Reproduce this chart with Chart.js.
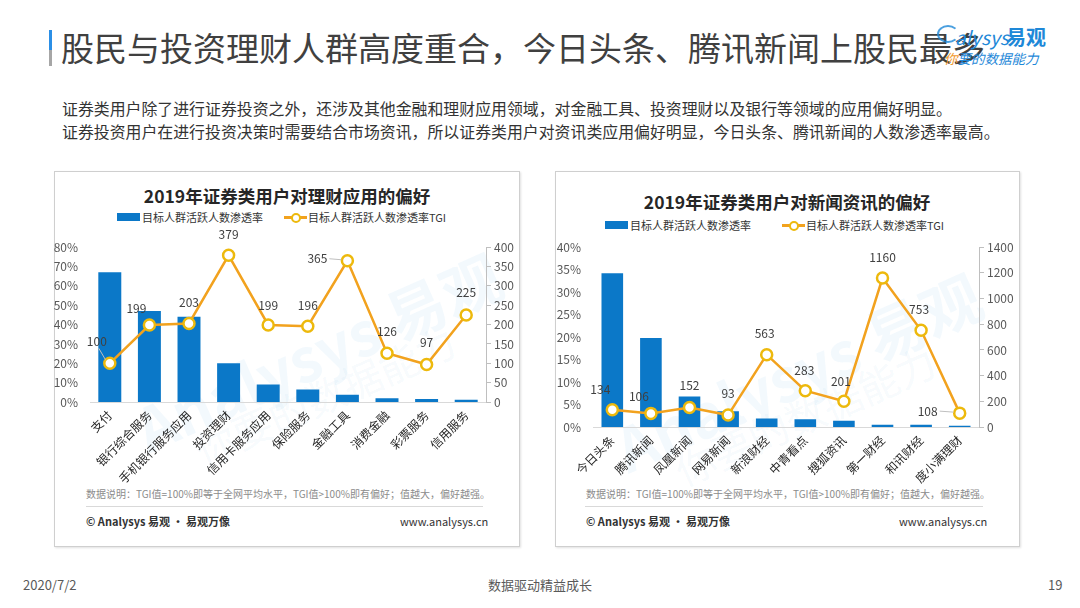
<!DOCTYPE html>
<html>
<head>
<meta charset="utf-8">
<script src="https://cdn.jsdelivr.net/npm/chart.js@4/dist/chart.umd.min.js"></script>
<style>
  html,body{margin:0;padding:0;background:#fff;}
  body{width:1080px;height:608px;position:relative;overflow:hidden;font-family:"Noto Sans CJK SC","Noto Sans",sans-serif;}
  .abs{position:absolute;white-space:nowrap;}
  .box{position:absolute;border:1px solid #cfcfcf;box-shadow:1px 1px 2px rgba(0,0,0,0.12);background:#fff;}
  .ctitle{position:absolute;font-size:17.5px;font-weight:bold;color:#262626;line-height:1;transform:translateX(-50%);white-space:nowrap;}
  .leg{position:absolute;font-size:11px;color:#333;line-height:12px;white-space:nowrap;}
  .sw{position:absolute;width:23px;height:8px;background:#0B78C8;}
  .ln{position:absolute;width:23px;height:3px;background:#F2A21E;}
  .dot{position:absolute;width:6px;height:6px;border:2px solid #EDB90C;border-radius:50%;background:#fff;}
  .note{position:absolute;font-size:10px;color:#8c8c8c;white-space:nowrap;line-height:12px;}
  .sep{position:absolute;height:1px;background:#d9d9d9;}
  .copy{position:absolute;font-size:11px;color:#333;font-weight:bold;white-space:nowrap;line-height:12px;}
  .www{position:absolute;font-size:11px;color:#333;white-space:nowrap;line-height:12px;}
  .wm{position:absolute;color:rgba(40,140,215,0.055);font-weight:bold;white-space:nowrap;transform-origin:left top;}
  canvas{position:absolute;}
</style>
</head>
<body>
<!-- header -->
<div class="abs" style="left:49px;top:30px;width:3px;height:20px;background:#2b8fe6;"></div>
<div class="abs" style="left:49px;top:50px;width:3px;height:16px;background:#a6a6a6;"></div>
<div class="abs" style="left:61px;top:29px;font-size:33px;line-height:36px;color:#404040;">股民与投资理财人群高度重合，今日头条、腾讯新闻上股民最多</div>

<div class="abs" style="left:937px;top:25px;width:18px;height:14px;border:2px solid #1E88D8;border-radius:50%;border-right-color:transparent;opacity:0.8;"></div>
<div class="abs" style="left:955px;top:26px;font-size:19px;line-height:22px;color:#1E88D8;font-style:italic;">alysys</div>
<div class="abs" style="left:1006px;top:25px;font-size:20px;line-height:24px;color:#1E88D8;font-weight:bold;">易观</div>
<div class="abs" style="left:944px;top:50px;font-size:13.5px;line-height:16px;color:#1E88D8;font-style:italic;"><span style="color:#F29A2E;">你</span>要的数据能力</div>

<div class="abs" style="left:62px;top:97px;font-size:15.9px;line-height:23px;color:#333;">证券类用户除了进行证券投资之外，还涉及其他金融和理财应用领域，对金融工具、投资理财以及银行等领域的应用偏好明显。<br>证券投资用户在进行投资决策时需要结合市场资讯，所以证券类用户对资讯类应用偏好明显，今日头条、腾讯新闻的人数渗透率最高。</div>

<!-- boxes -->
<div class="box" style="left:54px;top:171px;width:464px;height:374px;"></div>
<div class="box" style="left:555px;top:171px;width:463px;height:374px;"></div>

<!-- watermarks -->
<div class="wm" style="left:120px;top:390px;font-size:60px;transform:rotate(-24deg);">Analysys 易观</div>
<div class="wm" style="left:185px;top:425px;font-size:40px;font-weight:normal;transform:rotate(-24deg);">你要的数据能力</div>
<div class="wm" style="left:600px;top:410px;font-size:60px;transform:rotate(-24deg);">Analysys 易观</div>
<div class="wm" style="left:665px;top:445px;font-size:40px;font-weight:normal;transform:rotate(-24deg);">你要的数据能力</div>

<!-- left chart texts -->
<div class="ctitle" style="left:287px;top:187px;">2019年证券类用户对理财应用的偏好</div>
<div class="sw" style="left:117px;top:213px;"></div>
<div class="leg" style="left:142px;top:211px;">目标人群活跃人数渗透率</div>
<div class="ln" style="left:284px;top:216px;"></div>
<div class="dot" style="left:291px;top:213px;"></div>
<div class="leg" style="left:308px;top:211px;">目标人群活跃人数渗透率TGI</div>
<div class="note" style="left:86px;top:488px;">数据说明：TGI值=100%即等于全网平均水平，TGI值&gt;100%即有偏好；值越大，偏好越强。</div>
<div class="sep" style="left:86px;top:506px;width:397px;"></div>
<div class="copy" style="left:86px;top:515px;">© Analysys 易观 · 易观万像</div>
<div class="www" style="left:400px;top:515px;width:83px;text-align:right;">www.analysys.cn</div>

<!-- right chart texts -->
<div class="ctitle" style="left:787px;top:193px;">2019年证券类用户对新闻资讯的偏好</div>
<div class="sw" style="left:605px;top:221px;"></div>
<div class="leg" style="left:630px;top:219px;">目标人群活跃人数渗透率</div>
<div class="ln" style="left:782px;top:224px;"></div>
<div class="dot" style="left:789px;top:221px;"></div>
<div class="leg" style="left:806px;top:219px;">目标人群活跃人数渗透率TGI</div>
<div class="note" style="left:586px;top:488px;">数据说明：TGI值=100%即等于全网平均水平，TGI值&gt;100%即有偏好；值越大，偏好越强。</div>
<div class="sep" style="left:585px;top:506px;width:398px;"></div>
<div class="copy" style="left:586px;top:515px;">© Analysys 易观 · 易观万像</div>
<div class="www" style="left:899px;top:515px;width:83px;text-align:right;">www.analysys.cn</div>

<!-- footer -->
<div class="abs" style="left:23px;top:577px;font-size:13px;line-height:16px;color:#595959;">2020/7/2</div>
<div class="abs" style="left:540px;top:577px;font-size:13px;line-height:16px;color:#595959;transform:translateX(-50%);">数据驱动精益成长</div>
<div class="abs" style="left:1048px;top:577px;font-size:13px;line-height:16px;color:#595959;">19</div>

<canvas id="c1" style="left:54px;top:228px;width:465px;height:262px;" width="465" height="262"></canvas>
<canvas id="c2" style="left:555px;top:228px;width:464px;height:262px;" width="464" height="262"></canvas>

<script>
// ---------- data ----------
const leftCategories = ['支付','银行综合服务','手机银行服务应用','投资理财','信用卡服务应用','保险服务','金融工具','消费金融','彩票服务','信用服务'];
const leftPenetration = [67, 47, 44, 20, 9, 6.4, 3.7, 2, 1.5, 1.2];
const leftTGI = [100, 199, 203, 379, 199, 196, 365, 126, 97, 225];
const leftPctTicks = [0, 10, 20, 30, 40, 50, 60, 70, 80];
const leftTGITicks = [0, 50, 100, 150, 200, 250, 300, 350, 400];

const rightCategories = ['今日头条','腾讯新闻','凤凰新闻','网易新闻','新浪财经','中青看点','搜狐资讯','第一财经','和讯财经','度小满理财'];
const rightPenetration = [34.2, 19.8, 6.8, 3.5, 1.9, 1.7, 1.4, 0.5, 0.5, 0.3];
const rightTGI = [134, 106, 152, 93, 563, 283, 201, 1160, 753, 108];
const rightPctTicks = [0, 5, 10, 15, 20, 25, 30, 35, 40];
const rightTGITicks = [0, 200, 400, 600, 800, 1000, 1200, 1400];

const seriesNames = ['目标人群活跃人数渗透率', '目标人群活跃人数渗透率TGI'];

// label placement (style only): [dx, dy, leaderLine]
const leftLabelPlace = [[-13,-22,1],[-13,-17,0],[0,-21,0],[0,-21,0],[0,-20,0],[0,-21,0],[-30,-2,1],[0,-22,0],[0,-22,0],[0,-22,0]];
const rightLabelPlace = [[-12,-20,0],[-12,-17,0],[0,-22,0],[0,-22,0],[-2,-21,0],[-1,-20,0],[-3,-20,0],[0,-21,0],[-2,-21,0],[-32,-2,1]];

const FONT = '"Noto Sans CJK SC","Noto Sans",sans-serif';
const BAR = '#0B78C8', LINE = '#F2A21E', PT = '#EDB90C';

const valueLabels = {
  id: 'valueLabels',
  afterDatasetsDraw(chart, args, opts) {
    const meta = chart.getDatasetMeta(1);
    const data = chart.data.datasets[1].data;
    const ctx = chart.ctx;
    ctx.save();
    ctx.font = '12px ' + FONT;
    ctx.fillStyle = '#404040';
    ctx.textAlign = 'center';
    ctx.textBaseline = 'middle';
    meta.data.forEach((p, i) => {
      const pl = opts.place[i];
      const tx = p.x + pl[0], ty = p.y + pl[1];
      const txt = String(data[i]);
      ctx.fillText(txt, tx, ty);
      if (pl[2]) {
        const w = ctx.measureText(txt).width;
        ctx.strokeStyle = '#bfbfbf';
        ctx.lineWidth = 1;
        ctx.beginPath();
        if (pl[1] < -10) { ctx.moveTo(tx + 2, ty + 7); ctx.lineTo(p.x - 4, p.y - 3); }
        else { ctx.moveTo(tx + w/2 + 2, ty); ctx.lineTo(p.x - 6, p.y - 1); }
        ctx.stroke();
      }
    });
    ctx.restore();
  }
};

function makeChart(id, cats, pen, tgi, pctTicks, tgiTicks, cfg) {
  return new Chart(document.getElementById(id), {
    data: {
      labels: cats,
      datasets: [
        { type: 'bar', label: seriesNames[0], data: pen, yAxisID: 'y', backgroundColor: BAR,
          barPercentage: cfg.barPct, categoryPercentage: 1, order: 2 },
        { type: 'line', label: seriesNames[1], data: tgi, yAxisID: 'y1', borderColor: LINE, borderWidth: 2.5,
          pointRadius: 5.5, pointHoverRadius: 5.5, pointBorderWidth: 2.5, pointBorderColor: PT,
          pointBackgroundColor: '#fff', tension: 0, order: 1 }
      ]
    },
    options: {
      responsive: false, animation: false, devicePixelRatio: 1,
      layout: { padding: { top: 15, left: 0, right: 0, bottom: 0 } },
      plugins: { legend: { display: false }, tooltip: { enabled: false }, valueLabels: { place: cfg.place } },
      scales: {
        x: {
          offset: true,
          grid: { display: true, drawOnChartArea: false, drawTicks: false },
          border: { display: true, color: '#d9d9d9', width: 1 },
          ticks: { autoSkip: false, minRotation: 45, maxRotation: 45, padding: 6, color: '#262626',
                   font: { family: FONT, size: 12 } },
          afterFit: s => { s.height = cfg.xH; }
        },
        y: {
          position: 'left', min: pctTicks[0], max: pctTicks[pctTicks.length - 1],
          afterBuildTicks: s => { s.ticks = pctTicks.map(v => ({ value: v })); },
          grid: { display: false, drawTicks: false },
          border: { display: false },
          ticks: { padding: cfg.yPad, color: '#595959', font: { family: FONT, size: 12 }, callback: v => v + '%' },
          afterFit: s => { s.width = cfg.yW; }
        },
        y1: {
          position: 'right', min: tgiTicks[0], max: tgiTicks[tgiTicks.length - 1],
          afterBuildTicks: s => { s.ticks = tgiTicks.map(v => ({ value: v })); },
          grid: { display: true, drawOnChartArea: false, drawTicks: true, tickLength: 5, color: '#bfbfbf' },
          border: { display: true, color: '#bfbfbf', width: 1 },
          ticks: { padding: 3, color: '#595959', font: { family: FONT, size: 12 }, callback: v => String(v) },
          afterFit: s => { s.width = cfg.y1W; }
        }
      }
    },
    plugins: [valueLabels]
  });
}

makeChart('c1', leftCategories, leftPenetration, leftTGI, leftPctTicks, leftTGITicks,
  { barPct: 0.58, xH: 88, yW: 36, y1W: 33, yPad: 12, place: leftLabelPlace });
makeChart('c2', rightCategories, rightPenetration, rightTGI, rightPctTicks, rightTGITicks,
  { barPct: 0.56, xH: 63, yW: 38, y1W: 40, yPad: 12, place: rightLabelPlace });
</script>
</body>
</html>
